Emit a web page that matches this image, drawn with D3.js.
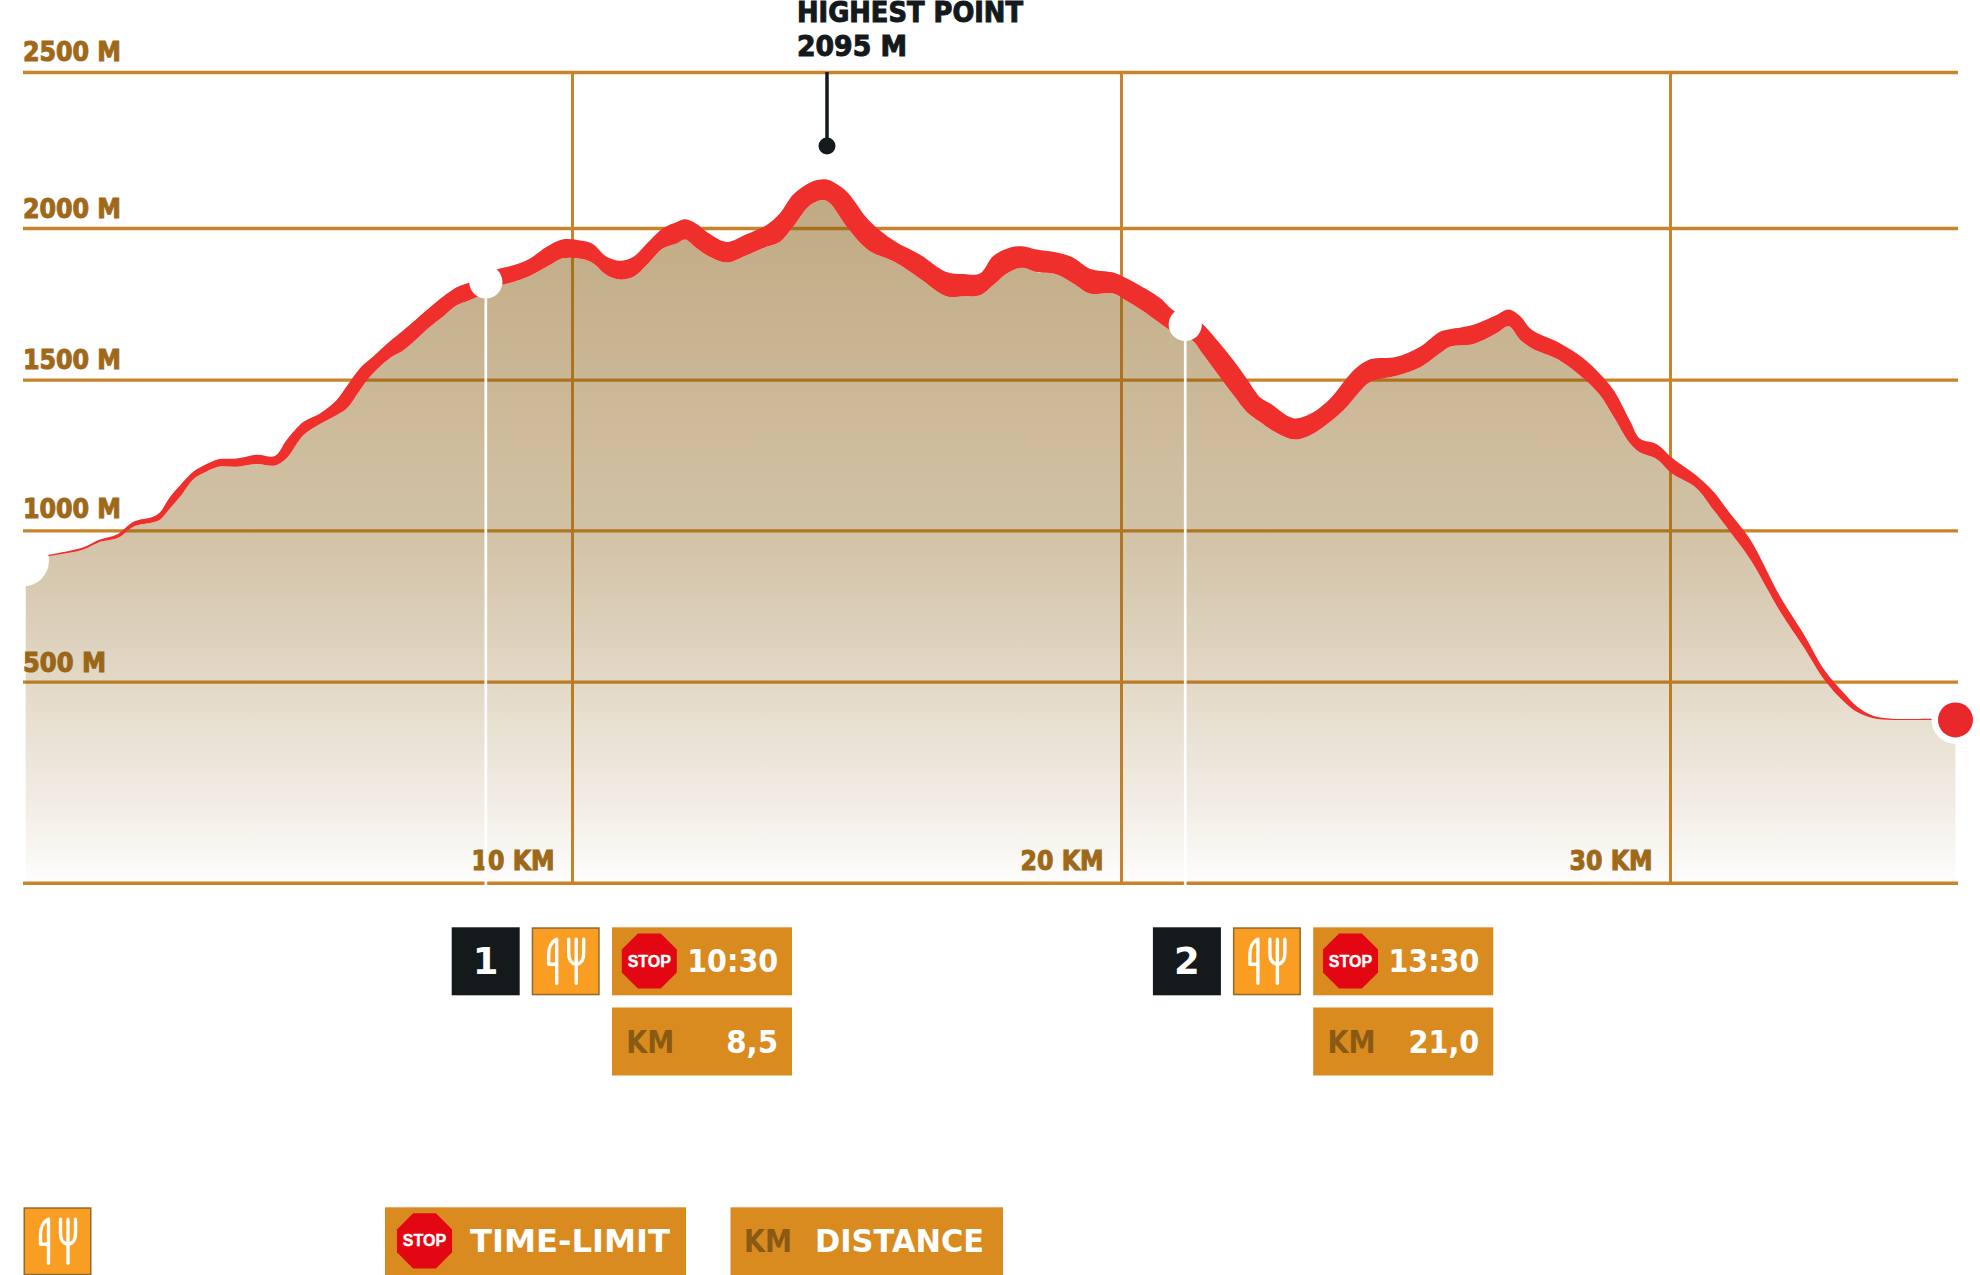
<!DOCTYPE html>
<html>
<head>
<meta charset="utf-8">
<script src="https://cdn.jsdelivr.net/npm/d3@7/dist/d3.min.js"></script>
<style>
html, body { margin: 0; padding: 0; background: #fff; }
svg { display: block; }
text { font-family: "DejaVu Sans", sans-serif; font-weight: bold; }
</style>
</head>
<body>
<div id="chart"></div>
<script>
// distance along the route (km)
var distance = [0.05, 0.48, 1.09, 1.38, 1.73, 2.02, 2.37, 2.5, 2.68, 2.86,
    3.1, 3.28, 3.56, 3.89, 4.26, 4.59, 4.8, 5.11, 5.41, 5.71,
    5.9, 6.14, 6.32, 6.68, 6.93, 7.41, 7.66, 7.9, 8.11, 8.42,
    8.63, 8.93, 9.23, 9.54, 9.84, 10.21, 10.39, 10.63, 10.87, 11.12,
    11.36, 11.66, 11.91, 12.06, 12.27, 12.51, 12.82, 13.18, 13.54, 13.79,
    14.03, 14.34, 14.58, 14.7, 15, 15.4, 15.88, 16.34, 16.82, 17.13,
    17.43, 17.67, 17.92, 18.19, 18.46, 18.83, 19.13, 19.43, 19.86, 20.1,
    20.38, 20.71, 20.98, 21.29, 21.5, 21.8, 22.05, 22.29, 22.53, 22.71,
    23.14, 23.44, 23.81, 24.11, 24.29, 24.54, 25.02, 25.45, 25.81, 25.99,
    26.42, 26.84, 27.06, 27.27, 27.48, 27.97, 28.42, 28.72, 28.97, 29.27,
    29.45, 29.76, 30.03, 30.48, 30.79, 31.09, 31.46, 32.01, 32.42, 32.82,
    33.17, 33.4, 33.7, 34.05, 34.74, 35.2];

// elevation in metres, lower edge of the red band
var elevation = [900, 915, 936, 960, 975, 1013, 1027, 1036, 1073, 1111,
    1169, 1189, 1211, 1211, 1220, 1215, 1239, 1316, 1353, 1382,
    1405, 1466, 1510, 1571, 1597, 1674, 1709, 1745, 1760, 1785,
    1808, 1822, 1842, 1872, 1900, 1897, 1883, 1845, 1830, 1839,
    1878, 1933, 1949, 1962, 1933, 1905, 1886, 1910, 1938, 1955,
    2005, 2074, 2090, 2079, 2005, 1927, 1888, 1833, 1775, 1775,
    1778, 1811, 1850, 1869, 1855, 1847, 1817, 1784, 1784, 1760,
    1729, 1686, 1653, 1631, 1582, 1509, 1448, 1393, 1360, 1337,
    1302, 1315, 1360, 1409, 1448, 1492, 1513, 1541, 1587, 1609,
    1618, 1653, 1676, 1632, 1604, 1566, 1505, 1450, 1378, 1289,
    1259, 1236, 1189, 1140, 1068, 996, 904, 730, 618, 504,
    450, 425, 409, 405, 405, 405];

// vertical thickness of the red band, in metres
var bandHeight = [2, 4, 7, 8, 13, 16, 18, 25, 38, 38,
    25, 25, 25, 27, 31, 32, 60, 44, 35, 50,
    74, 72, 57, 55, 66, 64, 66, 60, 59, 55,
    55, 55, 57, 66, 63, 60, 63, 60, 62, 66,
    70, 66, 70, 66, 80, 75, 68, 69, 71, 92,
    102, 72, 66, 73, 112, 99, 68, 79, 80, 73,
    72, 96, 82, 71, 74, 72, 85, 82, 69, 74,
    77, 83, 72, 80, 99, 110, 115, 110, 82, 85,
    70, 71, 77, 96, 91, 75, 63, 68, 71, 57,
    63, 60, 55, 77, 61, 57, 66, 70, 88, 75,
    46, 50, 53, 42, 61, 61, 66, 50, 44, 33,
    21, 14, 6, 3, 3, 3];

var elevationTicks = [0, 500, 1000, 1500, 2000, 2500];
var distanceTicks = [10, 20, 30];

var stopNumbers = ["1", "2"];
var stopKm = [8.43, 21.17];
var stopElevation = [1822, 1682];
var stopTimes = ["10:30", "13:30"];
var stopKmLabels = ["8,5", "21,0"];

var highestPoint = { label: "HIGHEST POINT", value: "2095 M" };

var svgWidth = 1980;
var svgHeight = 1275;

var gridColor = "#c8842a";
var labelColor = "#a0691a";
var panelColor = "#d98b1f";
var iconColor = "#f99d23";
var darkColor = "#14191c";
var redColor = "#ee2f2c";

// how far each elevation label sits above its line
var labelLift = { 500: 10.4, 1000: 13, 1500: 11, 2000: 11, 2500: 12 };
// left edge of each row of stop boxes
var panelLeft = [451.7, 1152.9];

var svg = d3.select("#chart")
    .append("svg")
    .attr("width", svgWidth)
    .attr("height", svgHeight);

var x = d3.scaleLinear().domain([0, 30]).range([23, 1670]);
var y = d3.scaleLinear()
    .domain(elevationTicks)
    .range([882.7, 681.7, 530.3, 379.7, 228, 72]);

var profile = distance.map(function(d, i) {
    return { km: d, elev: elevation[i], band: bandHeight[i] };
});

// one brown that fades out, so the grid shows through it
var gradient = svg.append("defs").append("linearGradient")
    .attr("id", "fade")
    .attr("gradientUnits", "userSpaceOnUse")
    .attr("x1", 0).attr("x2", 0)
    .attr("y1", 190).attr("y2", 882.7);
[[0, 0.53], [0.49, 0.38], [0.71, 0.24], [0.88, 0.117], [1, 0.012]].forEach(function(s) {
    gradient.append("stop")
        .attr("offset", s[0])
        .attr("stop-color", "#885e13")
        .attr("stop-opacity", s[1]);
});

// horizontal grid + elevation labels
var yAxis = d3.axisLeft(y)
    .tickValues(elevationTicks)
    .tickSize(-(1958 - 23))
    .tickFormat(function(d) { return d ? d + " M" : ""; });

var yGroup = svg.append("g")
    .attr("transform", "translate(23,0)")
    .call(yAxis);
yGroup.select(".domain").remove();
yGroup.selectAll("line")
    .attr("stroke", gridColor)
    .attr("stroke-width", function(d) { return d === 0 ? 3.6 : 3.3; });
yGroup.selectAll("text")
    .attr("x", 0)
    .attr("dy", function(d) { return -(labelLift[d] || 0); })
    .attr("text-anchor", "start")
    .attr("fill", labelColor)
    .attr("stroke", labelColor)
    .attr("stroke-width", 1.1)
    .style("font-size", "27px")
    .style("font-family", "'DejaVu Sans'")
    .attr("textLength", function(d) { return d === 500 ? 83 : 98; })
    .attr("lengthAdjust", "spacingAndGlyphs");

// vertical grid + km labels
var xAxis = d3.axisBottom(x)
    .tickValues(distanceTicks)
    .tickSize(-(882.7 - 72))
    .tickFormat(function(d) { return d + " KM"; });

var xGroup = svg.append("g")
    .attr("transform", "translate(0,882.7)")
    .call(xAxis);
xGroup.select(".domain").remove();
xGroup.selectAll("line")
    .attr("stroke", gridColor)
    .attr("stroke-width", 3);
xGroup.selectAll("text")
    .attr("transform", "translate(-18,-12.7)")
    .attr("y", 0)
    .attr("dy", 0)
    .attr("text-anchor", "end")
    .attr("fill", labelColor)
    .attr("stroke", labelColor)
    .attr("stroke-width", 1.1)
    .style("font-size", "27px")
    .style("font-family", "'DejaVu Sans'")
    .attr("textLength", 83)
    .attr("lengthAdjust", "spacingAndGlyphs");

// shaded ground under the profile
var ground = d3.area()
    .x(function(d) { return x(d.km); })
    .y0(y(0))
    .y1(function(d) { return y(d.elev); })
    .curve(d3.curveCatmullRom);

svg.append("path")
    .datum(profile)
    .attr("d", ground)
    .attr("fill", "url(#fade)");

// white drop lines of the two stops
svg.selectAll(".dropline")
    .data(stopKm)
    .enter().append("line")
    .attr("class", "dropline")
    .attr("x1", function(d) { return x(d); })
    .attr("x2", function(d) { return x(d); })
    .attr("y1", function(d, i) { return y(stopElevation[i]); })
    .attr("y2", 886)
    .attr("stroke", "#fff")
    .attr("stroke-width", 2.7);

// red band, thin at the ends and wide on the top
var band = d3.area()
    .x(function(d) { return x(d.km); })
    .y0(function(d) { return y(d.elev); })
    .y1(function(d) { return y(d.elev + d.band); })
    .curve(d3.curveCatmullRom);

svg.append("path")
    .datum(profile)
    .attr("d", band)
    .attr("fill", redColor);

// stop markers
svg.selectAll(".stopdot")
    .data(stopKm)
    .enter().append("circle")
    .attr("class", "stopdot")
    .attr("cx", function(d) { return x(d); })
    .attr("cy", function(d, i) { return y(stopElevation[i]); })
    .attr("r", 16.6)
    .attr("fill", "#fff");

// start and finish
svg.append("circle")
    .attr("cx", x(0)).attr("cy", y(elevation[0]))
    .attr("r", 26).attr("fill", "#fff");

var last = profile[profile.length - 1];
svg.append("circle")
    .attr("cx", x(last.km)).attr("cy", y(last.elev))
    .attr("r", 24).attr("fill", "#fff");
svg.append("circle")
    .attr("cx", x(last.km)).attr("cy", y(last.elev))
    .attr("r", 17.5).attr("fill", "#e8282a");

// highest point pin
svg.append("line")
    .attr("x1", 827).attr("x2", 827)
    .attr("y1", 72).attr("y2", 146)
    .attr("stroke", darkColor)
    .attr("stroke-width", 3.5);
svg.append("circle")
    .attr("cx", 827).attr("cy", 146)
    .attr("r", 8.5)
    .attr("fill", darkColor);
addText(svg, highestPoint.label, 797, 21.5, 29, darkColor, 226).attr("stroke", darkColor).attr("stroke-width", 1.1);
addText(svg, highestPoint.value, 797, 56, 29, darkColor, 110).attr("stroke", darkColor).attr("stroke-width", 1.1);

function addText(parent, str, px, py, size, color, fit) {
    var t = parent.append("text")
        .attr("x", px)
        .attr("y", py)
        .attr("fill", color)
        .style("font-size", size + "px")
        .text(str);
    if (fit) {
        t.attr("textLength", fit).attr("lengthAdjust", "spacingAndGlyphs");
    }
    return t;
}

function forkIcon(parent, px, py) {
    var g = parent.append("g").attr("transform", "translate(" + px + "," + py + ")");
    g.append("rect")
        .attr("x", 0.75).attr("y", 0.75)
        .attr("width", 66.5).attr("height", 66.5)
        .attr("fill", iconColor)
        .attr("stroke", "#8f6a2c")
        .attr("stroke-width", 1.5);
    g.append("path")
        .attr("d", "M25 12 C20 14 17 20 17 27 L17 37 L25 37 M25 12 L25 56 M37 12 L37 26 Q37 36 44.5 37 Q52 36 52 26 L52 12 M44.5 12 L44.5 56")
        .attr("fill", "none")
        .attr("stroke", "#fff")
        .attr("stroke-width", 3.4)
        .attr("stroke-linecap", "round")
        .attr("stroke-linejoin", "round");
}

function stopSign(parent, cx, cy) {
    var r = 29.8;
    var pts = d3.range(8).map(function(i) {
        var a = Math.PI / 8 + i * Math.PI / 4;
        return [cx + r * Math.cos(a), cy + r * Math.sin(a)];
    });
    parent.append("polygon")
        .attr("points", pts.join(" "))
        .attr("fill", "#e30613");
    parent.append("text")
        .attr("x", cx).attr("y", cy + 5.5)
        .attr("text-anchor", "middle")
        .attr("fill", "#fff")
        .attr("stroke", "#fff")
        .attr("stroke-width", 0.4)
        .style("font-family", "'Liberation Sans'")
        .style("font-size", "16px")
        .text("STOP");
}

// boxes under the chart
stopKm.forEach(function(km, i) {
    var left = panelLeft[i];

    svg.append("rect")
        .attr("x", left).attr("y", 927.3)
        .attr("width", 68).attr("height", 68)
        .attr("fill", darkColor);
    addText(svg, stopNumbers[i], left + 34, 974, 37, "#fff").attr("text-anchor", "middle");

    forkIcon(svg, left + 80, 927.3);

    svg.append("rect")
        .attr("x", left + 160.3).attr("y", 927.3)
        .attr("width", 180).attr("height", 68)
        .attr("fill", panelColor);
    stopSign(svg, left + 197.6, 961);
    addText(svg, stopTimes[i], left + 326.5, 972, 32, "#fff", 91).attr("text-anchor", "end");

    svg.append("rect")
        .attr("x", left + 160.3).attr("y", 1007.5)
        .attr("width", 180).attr("height", 68)
        .attr("fill", panelColor);
    addText(svg, "KM", left + 174.5, 1052.5, 32, "#8a5a14", 48);
    addText(svg, stopKmLabels[i], left + 326.5, 1052.5, 32, "#fff", i === 0 ? 52 : 71).attr("text-anchor", "end");
});

// legend row
forkIcon(svg, 23.5, 1207.3);

svg.append("rect")
    .attr("x", 385).attr("y", 1207.3)
    .attr("width", 301).attr("height", 68)
    .attr("fill", panelColor);
stopSign(svg, 424.5, 1240.9);
addText(svg, "TIME-LIMIT", 470, 1251.5, 32, "#fff", 200);

svg.append("rect")
    .attr("x", 730.5).attr("y", 1207.3)
    .attr("width", 272.5).attr("height", 68)
    .attr("fill", panelColor);
addText(svg, "KM", 744, 1251.5, 32, "#8a5a14", 48);
addText(svg, "DISTANCE", 815, 1251.5, 32, "#fff", 169);
</script>
</body>
</html>
